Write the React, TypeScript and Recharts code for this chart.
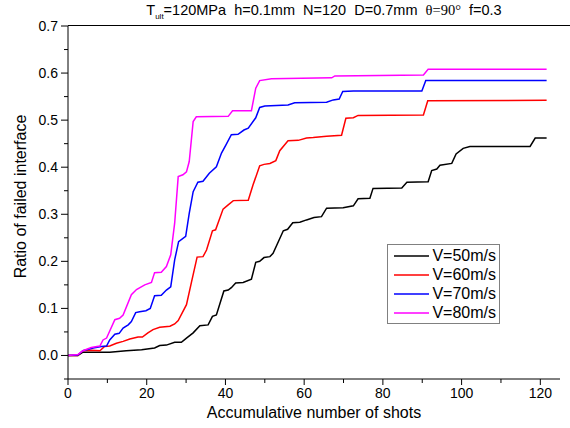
import React from 'react';
import { LineChart, Line, XAxis, YAxis, Legend } from 'recharts';

// ---- data ----
const v50Shots = [0, 2.5, 3.8, 10.6, 14.8, 18.7, 22, 23.3, 25, 27.1, 28.8, 30.1, 31.8, 33.5, 35.6, 36.7, 37.7, 39.6, 40.7, 41.5, 42.6, 44.5, 46.6, 47.7, 48.7, 49.8, 51.3, 52.1, 54.7, 55.8, 57.1, 58.9, 60.6, 62.5, 64.4, 65.7, 69.9, 72.5, 73.7, 76.7, 77.5, 84.8, 86.1, 91.5, 92.4, 93.7, 94.5, 97.5, 98.6, 100.4, 102.1, 117.4, 118.7, 121.6];
const v50Ratio = [0, 0, 0.007, 0.007, 0.01, 0.012, 0.016, 0.021, 0.022, 0.028, 0.028, 0.037, 0.048, 0.063, 0.065, 0.083, 0.086, 0.137, 0.139, 0.144, 0.154, 0.155, 0.162, 0.198, 0.2, 0.208, 0.21, 0.217, 0.265, 0.268, 0.282, 0.283, 0.288, 0.293, 0.295, 0.313, 0.314, 0.318, 0.333, 0.334, 0.355, 0.356, 0.368, 0.369, 0.393, 0.396, 0.404, 0.408, 0.428, 0.44, 0.444, 0.444, 0.462, 0.462];

const v60Shots = [0, 2.5, 3.8, 5.9, 8.1, 9.3, 10.6, 12.3, 14, 15.7, 17.8, 18.9, 20.3, 21.6, 23.3, 25.9, 27.1, 28, 30.1, 31.4, 32.8, 34.3, 35.2, 36.7, 37.5, 39.4, 40.7, 42, 45.8, 47, 48.7, 49.8, 51.3, 52.8, 53.8, 55.9, 58.5, 60.6, 62.3, 65.7, 69.5, 70.6, 72.5, 73.7, 90.3, 91.4, 121.6];
const v60Ratio = [0, 0, 0.01, 0.011, 0.01, 0.019, 0.02, 0.026, 0.03, 0.035, 0.039, 0.039, 0.048, 0.055, 0.06, 0.062, 0.067, 0.074, 0.108, 0.157, 0.209, 0.21, 0.224, 0.265, 0.267, 0.311, 0.32, 0.329, 0.33, 0.362, 0.403, 0.406, 0.408, 0.414, 0.435, 0.456, 0.457, 0.462, 0.463, 0.466, 0.468, 0.504, 0.505, 0.51, 0.511, 0.541, 0.542];

const v70Shots = [0, 2.5, 3.8, 6.4, 8.5, 9.8, 10.6, 11.9, 13, 14, 15.3, 16.1, 17.2, 18.2, 19.8, 20.9, 22, 23.7, 25, 26.1, 27.1, 28.1, 29.9, 30.8, 31.8, 33, 34.3, 35.9, 37.7, 39, 40.1, 41.5, 43.2, 44.7, 45.8, 47.7, 48.7, 50, 55.9, 57.6, 65.7, 67.4, 68.9, 69.8, 72.5, 89.9, 90.9, 121.6];
const v70Ratio = [0, 0.001, 0.01, 0.016, 0.019, 0.02, 0.033, 0.045, 0.047, 0.058, 0.065, 0.072, 0.091, 0.093, 0.095, 0.1, 0.127, 0.128, 0.139, 0.146, 0.203, 0.242, 0.253, 0.302, 0.348, 0.368, 0.37, 0.387, 0.401, 0.43, 0.447, 0.469, 0.47, 0.479, 0.483, 0.505, 0.527, 0.53, 0.532, 0.537, 0.538, 0.543, 0.545, 0.561, 0.562, 0.562, 0.584, 0.584];

const v80Shots = [0, 2.5, 3.8, 5.9, 8.1, 8.9, 9.8, 11.9, 13.1, 14, 16.1, 17.4, 19.5, 21.2, 22, 23.7, 25, 26.1, 27.1, 28, 29.2, 30.1, 30.8, 31.8, 32.6, 40.7, 41.8, 46.6, 47.7, 48.7, 51.7, 67, 67.8, 90.3, 91.5, 121.6];
const v80Ratio = [0, 0.002, 0.01, 0.017, 0.02, 0.033, 0.037, 0.076, 0.079, 0.086, 0.129, 0.14, 0.15, 0.155, 0.176, 0.177, 0.189, 0.214, 0.281, 0.38, 0.384, 0.39, 0.412, 0.497, 0.507, 0.508, 0.52, 0.52, 0.568, 0.584, 0.588, 0.59, 0.594, 0.596, 0.608, 0.608];

const seriesNames = ['V=50m/s', 'V=60m/s', 'V=70m/s', 'V=80m/s'];
const seriesColors = ['#000000', '#ff0000', '#0000ff', '#ff00ff'];

const xTicks = [0, 10, 20, 30, 40, 50, 60, 70, 80, 90, 100, 110, 120];
const xMajorTicks = [0, 20, 40, 60, 80, 100, 120];
const yTicks = [-0.05, 0, 0.05, 0.1, 0.15, 0.2, 0.25, 0.3, 0.35, 0.4, 0.45, 0.5, 0.55, 0.6, 0.65, 0.7];
const yMajorTicks = [0, 0.1, 0.2, 0.3, 0.4, 0.5, 0.6, 0.7];

const xTitle = 'Accumulative number of shots';
const yTitle = 'Ratio of failed interface';

const zip = (xs: number[], ys: number[]) => xs.map((x, i) => ({ shots: x, ratio: ys[i] }));
const seriesData = [zip(v50Shots, v50Ratio), zip(v60Shots, v60Ratio), zip(v70Shots, v70Ratio), zip(v80Shots, v80Ratio)];

const FONT = 'Arial, "Liberation Sans", sans-serif';

const YTick = (props: any) => {
  const { x, y, payload } = props;
  const v = payload.value;
  const major = yMajorTicks.some((m) => Math.abs(m - v) < 1e-9);
  return (
    <g>
      <line x1={x} x2={x - (major ? 7 : 4)} y1={y} y2={y} stroke="#000" strokeWidth={1} />
      {major && (
        <text x={x - 10} y={y} dy="0.35em" textAnchor="end" fontSize={14} fontFamily={FONT} fill="#000">
          {v.toFixed(1)}
        </text>
      )}
    </g>
  );
};

const XTick = (props: any) => {
  const { x, y, payload } = props;
  const v = payload.value;
  const major = xMajorTicks.includes(v);
  return (
    <g>
      <line x1={x} x2={x} y1={y} y2={y + (major ? 6 : 4)} stroke="#000" strokeWidth={1} />
      {major && (
        <text x={x} y={y + 9} dy="0.71em" textAnchor="middle" fontSize={14} fontFamily={FONT} fill="#000">
          {v}
        </text>
      )}
    </g>
  );
};

const renderLegend = () => (
  <div
    style={{
      border: '1px solid #808080',
      background: '#fff',
      padding: '1px 3px 1px 6px',
      fontFamily: FONT,
      fontSize: 16,
      lineHeight: '19px',
      width: 113,
      boxSizing: 'border-box',
      color: '#000',
    }}
  >
    {seriesNames.map((n, i) => (
      <div key={n} style={{ display: 'flex', alignItems: 'center', whiteSpace: 'nowrap' }}>
        <svg width={36} height={4} style={{ marginRight: 3 }}>
          <line x1={0} x2={36} y1={2} y2={2} stroke={seriesColors[i]} strokeWidth={1.5} />
        </svg>
        <span>{n}</span>
      </div>
    ))}
  </div>
);

export default function App() {
  return (
    <div style={{ position: 'absolute', left: 0, top: 0, width: 570, height: 428, background: '#fff' }}>
      <div
        style={{
          position: 'absolute',
          left: 0,
          width: 648,
          top: 2,
          textAlign: 'center',
          fontFamily: FONT,
          fontSize: 14.5,
          whiteSpace: 'pre',
          color: '#000',
        }}
      >
        T<sub style={{ fontSize: 8 }}>ult</sub>=120MPa  h=0.1mm  N=120  D=0.7mm  <span style={{ fontFamily: '"Liberation Serif", "DejaVu Serif", serif' }}>θ=90°</span>  f=0.3
      </div>
      <div style={{ position: 'absolute', left: 68, top: 25, width: 502, height: 1, background: '#000' }} />
      <div style={{ position: 'absolute', left: 0, top: 0 }}>
        <LineChart width={570} height={428} margin={{ top: 26, right: 10, bottom: 0, left: 0 }}>
          <XAxis
            dataKey="shots"
            type="number"
            domain={[0, 125]}
            ticks={xTicks}
            interval={0}
            tickSize={0}
            tickMargin={0}
            tick={<XTick />}
            tickLine={false}
            axisLine={{ stroke: '#000', strokeWidth: 1 }}
            height={49}
            allowDataOverflow
            label={{
              content: (p: any) => {
                const vb = p.viewBox;
                return (
                  <text x={vb.x + vb.width / 2} y={vb.y + 39} textAnchor="middle" fontSize={16} fontFamily={FONT} fill="#000">
                    {xTitle}
                  </text>
                );
              },
            }}
          />
          <YAxis
            dataKey="ratio"
            type="number"
            domain={[-0.05, 0.7]}
            ticks={yTicks}
            interval={0}
            tickSize={0}
            tickMargin={0}
            tick={<YTick />}
            tickLine={false}
            axisLine={{ stroke: '#000', strokeWidth: 1 }}
            width={68}
            allowDataOverflow
            label={{
              content: (p: any) => {
                const vb = p.viewBox;
                const cy = vb.y + vb.height / 2 - 6;
                return (
                  <text x={20} y={cy} transform={`rotate(-90, 20, ${cy})`} textAnchor="middle" dominantBaseline="central" fontSize={16} fontFamily={FONT} fill="#000">
                    {yTitle}
                  </text>
                );
              },
            }}
          />
          <Legend
            layout="vertical"
            align="center"
            verticalAlign="middle"
            content={renderLegend}
            wrapperStyle={{ position: 'absolute', left: 387, top: 244, width: 113, bottom: 'auto', right: 'auto' }}
          />
          {seriesData.map((d, i) => (
            <Line
              key={seriesNames[i]}
              data={d}
              dataKey="ratio"
              name={seriesNames[i]}
              type="linear"
              stroke={seriesColors[i]}
              strokeWidth={1.5}
              dot={false}
              activeDot={false}
              isAnimationActive={false}
            />
          ))}
        </LineChart>
      </div>
    </div>
  );
}
